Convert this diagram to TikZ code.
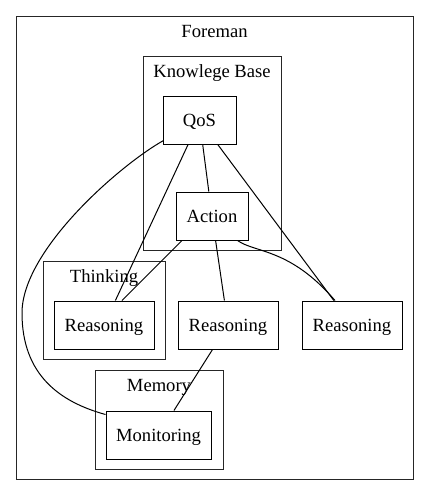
\documentclass[tikz,border=0pt]{standalone}
\usepackage{fontspec}
\setmainfont{Liberation Serif}
\usetikzlibrary{calc}
\begin{document}
\begin{tikzpicture}[x=1pt,y=-1pt,
  every node/.style={font=\fontsize{18.6}{22}\selectfont},
  box/.style={draw=black,line width=1pt,inner sep=0pt,minimum height=48pt,text height=12pt,text depth=0pt},
  cluster/.style={draw=black!85,line width=1pt,inner sep=0pt},
  lbl/.style={inner sep=0pt,text height=12pt,text depth=0pt},
  edge/.style={draw=black,line width=1pt}]
\useasboundingbox (0,0) rectangle (429,496);
% clusters
\node[cluster,minimum width=397pt,minimum height=463pt] (foreman) at (214.5,247.5) {};
\node[lbl] (foremanlbl) at (214.5,31.5) {Foreman};
\node[cluster,minimum width=138pt,minimum height=194pt] (kb) at (212,153) {};
\node[lbl] (kblbl) at (212,71.5) {Knowlege Base};
\node[cluster,minimum width=122pt,minimum height=98pt] (thinking) at (104,310) {};
\node[lbl] (thinkinglbl) at (104,276) {Thinking};
\node[cluster,minimum width=128pt,minimum height=99pt] (memory) at (159,419.5) {};
\node[lbl] (memorylbl) at (159,385) {Memory};
% nodes
\node[box,minimum width=73pt] (qos) at (199.5,120) {QoS};
\node[box,minimum width=72pt] (action) at (212,216) {Action};
\node[box,minimum width=100pt] (r1) at (104,325) {Reasoning};
\node[box,minimum width=100pt] (r2) at (228,325) {Reasoning};
\node[box,minimum width=100pt] (r3) at (352,325) {Reasoning};
\node[box,minimum width=105pt] (mon) at (158.5,435) {Monitoring};
% edges
\draw[edge] ($(qos.south west)+(1,-4)$) .. controls (120,165) and (22,250) .. (22,313)
  .. controls (22,375) and (60,402) .. ($(mon.north west)+(0,4)$);
\draw[edge] (qos) -- (r1);
\draw[edge] (qos) -- (action);
\draw[edge] (qos) -- (r3);
\draw[edge] ($(action.south)+(-30,0)$) -- ($(r1.north)+(18,0)$);
\draw[edge] (action) -- (r2);
\draw[edge] ($(action.south)+(25.5,0)$) .. controls (255,253) and (290,248) .. ($(r3.north)+(-17,0)$);
\draw[edge] (r2) -- (mon);
\end{tikzpicture}
\end{document}
